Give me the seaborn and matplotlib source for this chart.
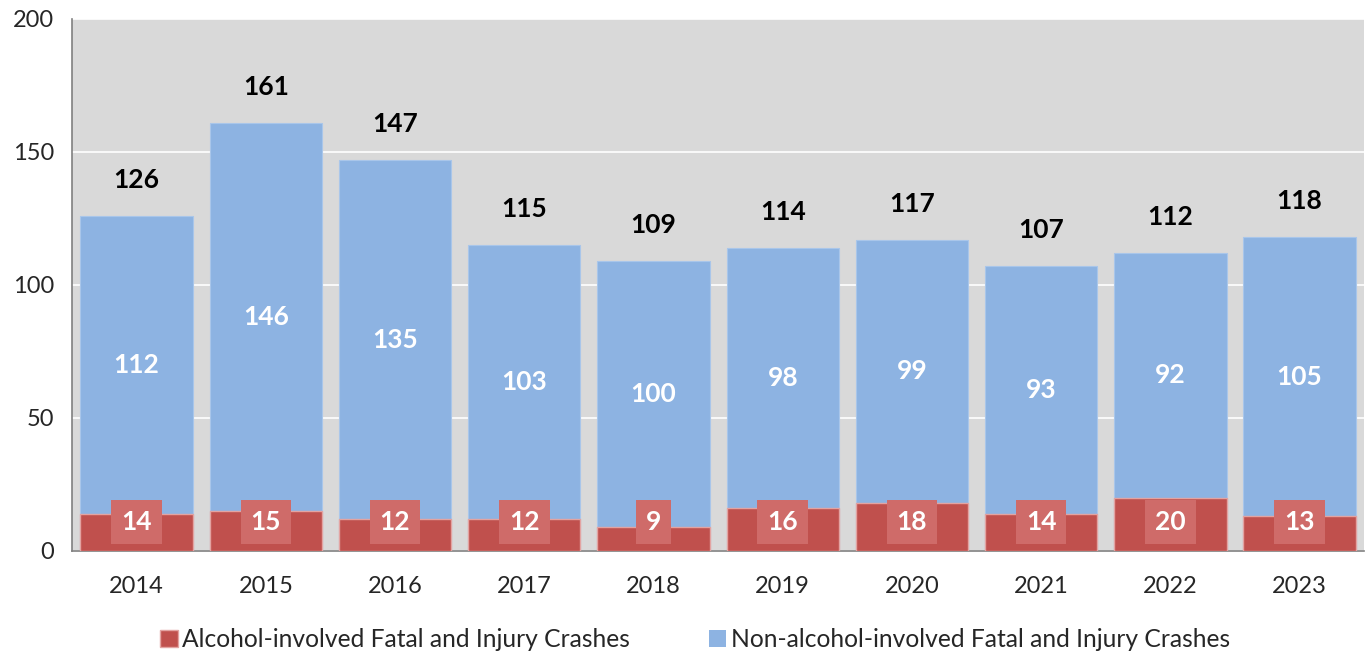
import numpy as np
import pandas as pd
import matplotlib
matplotlib.use('Agg')
import matplotlib.pyplot as plt
import seaborn as sns
from matplotlib.patches import Patch

anos = ['2014', '2015', '2016', '2017', '2018', '2019', '2020', '2021', '2022', '2023']
alcool = [14, 15, 12, 12, 9, 16, 18, 14, 20, 13]
sem_alcool = [112, 146, 135, 103, 100, 98, 99, 93, 92, 105]
totais = [a + b for a, b in zip(alcool, sem_alcool)]

cor_vermelho = '#C0504D'
cor_azul = '#8DB3E2'
cor_caixa = '#CF6B69'

sns.set_style('white')
plt.rcParams['font.family'] = ['Lato', 'DejaVu Sans']

df = pd.DataFrame({'ano': anos, 'alcool': alcool, 'sem_alcool': sem_alcool, 'total': totais})

fig = plt.figure(figsize=(13.66, 6.54), dpi=100)
ax = fig.add_axes([0.0527, 0.1575, 0.946, 0.8135])
ax.set_facecolor('#D9D9D9')

# barra total (azul) e barra de álcool (vermelha) por cima
sns.barplot(data=df, x='ano', y='total', color=cor_azul, saturation=1, width=0.87,
            edgecolor='#A9C6EA', linewidth=0.8, ax=ax, zorder=2)
sns.barplot(data=df, x='ano', y='alcool', color=cor_vermelho, saturation=1, width=0.87,
            edgecolor='#E3A3A1', linewidth=1.0, ax=ax, zorder=3)

for i in range(len(anos)):
    ax.text(i, 11, str(alcool[i]), ha='center', va='center', color='white',
            fontsize=19, fontweight='bold', zorder=5,
            bbox=dict(boxstyle='square,pad=0.38', facecolor=cor_caixa, edgecolor='none'))
    ax.text(i, alcool[i] + sem_alcool[i] / 2, str(sem_alcool[i]), ha='center', va='center',
            color='white', fontsize=19, fontweight='bold', zorder=5)
    ax.text(i, totais[i] + 13.5, str(totais[i]), ha='center', va='center',
            color='black', fontsize=19, fontweight='bold', zorder=5)

ax.set_ylim(0, 200)
ax.set_xlim(-0.5, len(anos) - 0.5)
ax.set_yticks([0, 50, 100, 150, 200])
ax.yaxis.grid(True, color='white', linewidth=1.2, zorder=1)
ax.set_axisbelow(True)
ax.set_xlabel('')
ax.set_ylabel('')

ax.set_xticks(np.arange(len(anos) + 1) - 0.5, minor=True)
ax.tick_params(axis='x', which='major', length=0, labelsize=17, pad=18)
ax.tick_params(axis='x', which='minor', length=7, color='#808080', width=1)
ax.tick_params(axis='y', length=7, color='#808080', width=1, labelsize=17, pad=6)

for lado in ['top', 'right']:
    ax.spines[lado].set_visible(False)
for lado in ['left', 'bottom']:
    ax.spines[lado].set_color('#808080')
    ax.spines[lado].set_linewidth(1.2)

handles = [Patch(facecolor=cor_vermelho, edgecolor='#E3A3A1', label='Alcohol-involved Fatal and Injury Crashes'),
           Patch(facecolor=cor_azul, edgecolor='none', label='Non-alcohol-involved Fatal and Injury Crashes')]
fig.legend(handles=handles, loc='lower center', bbox_to_anchor=(0.509, -0.03), ncol=2, frameon=False,
           fontsize=17.7, handlelength=0.7, handleheight=0.7, handletextpad=0.2, columnspacing=3.2)

plt.savefig('out.png', dpi=100)
